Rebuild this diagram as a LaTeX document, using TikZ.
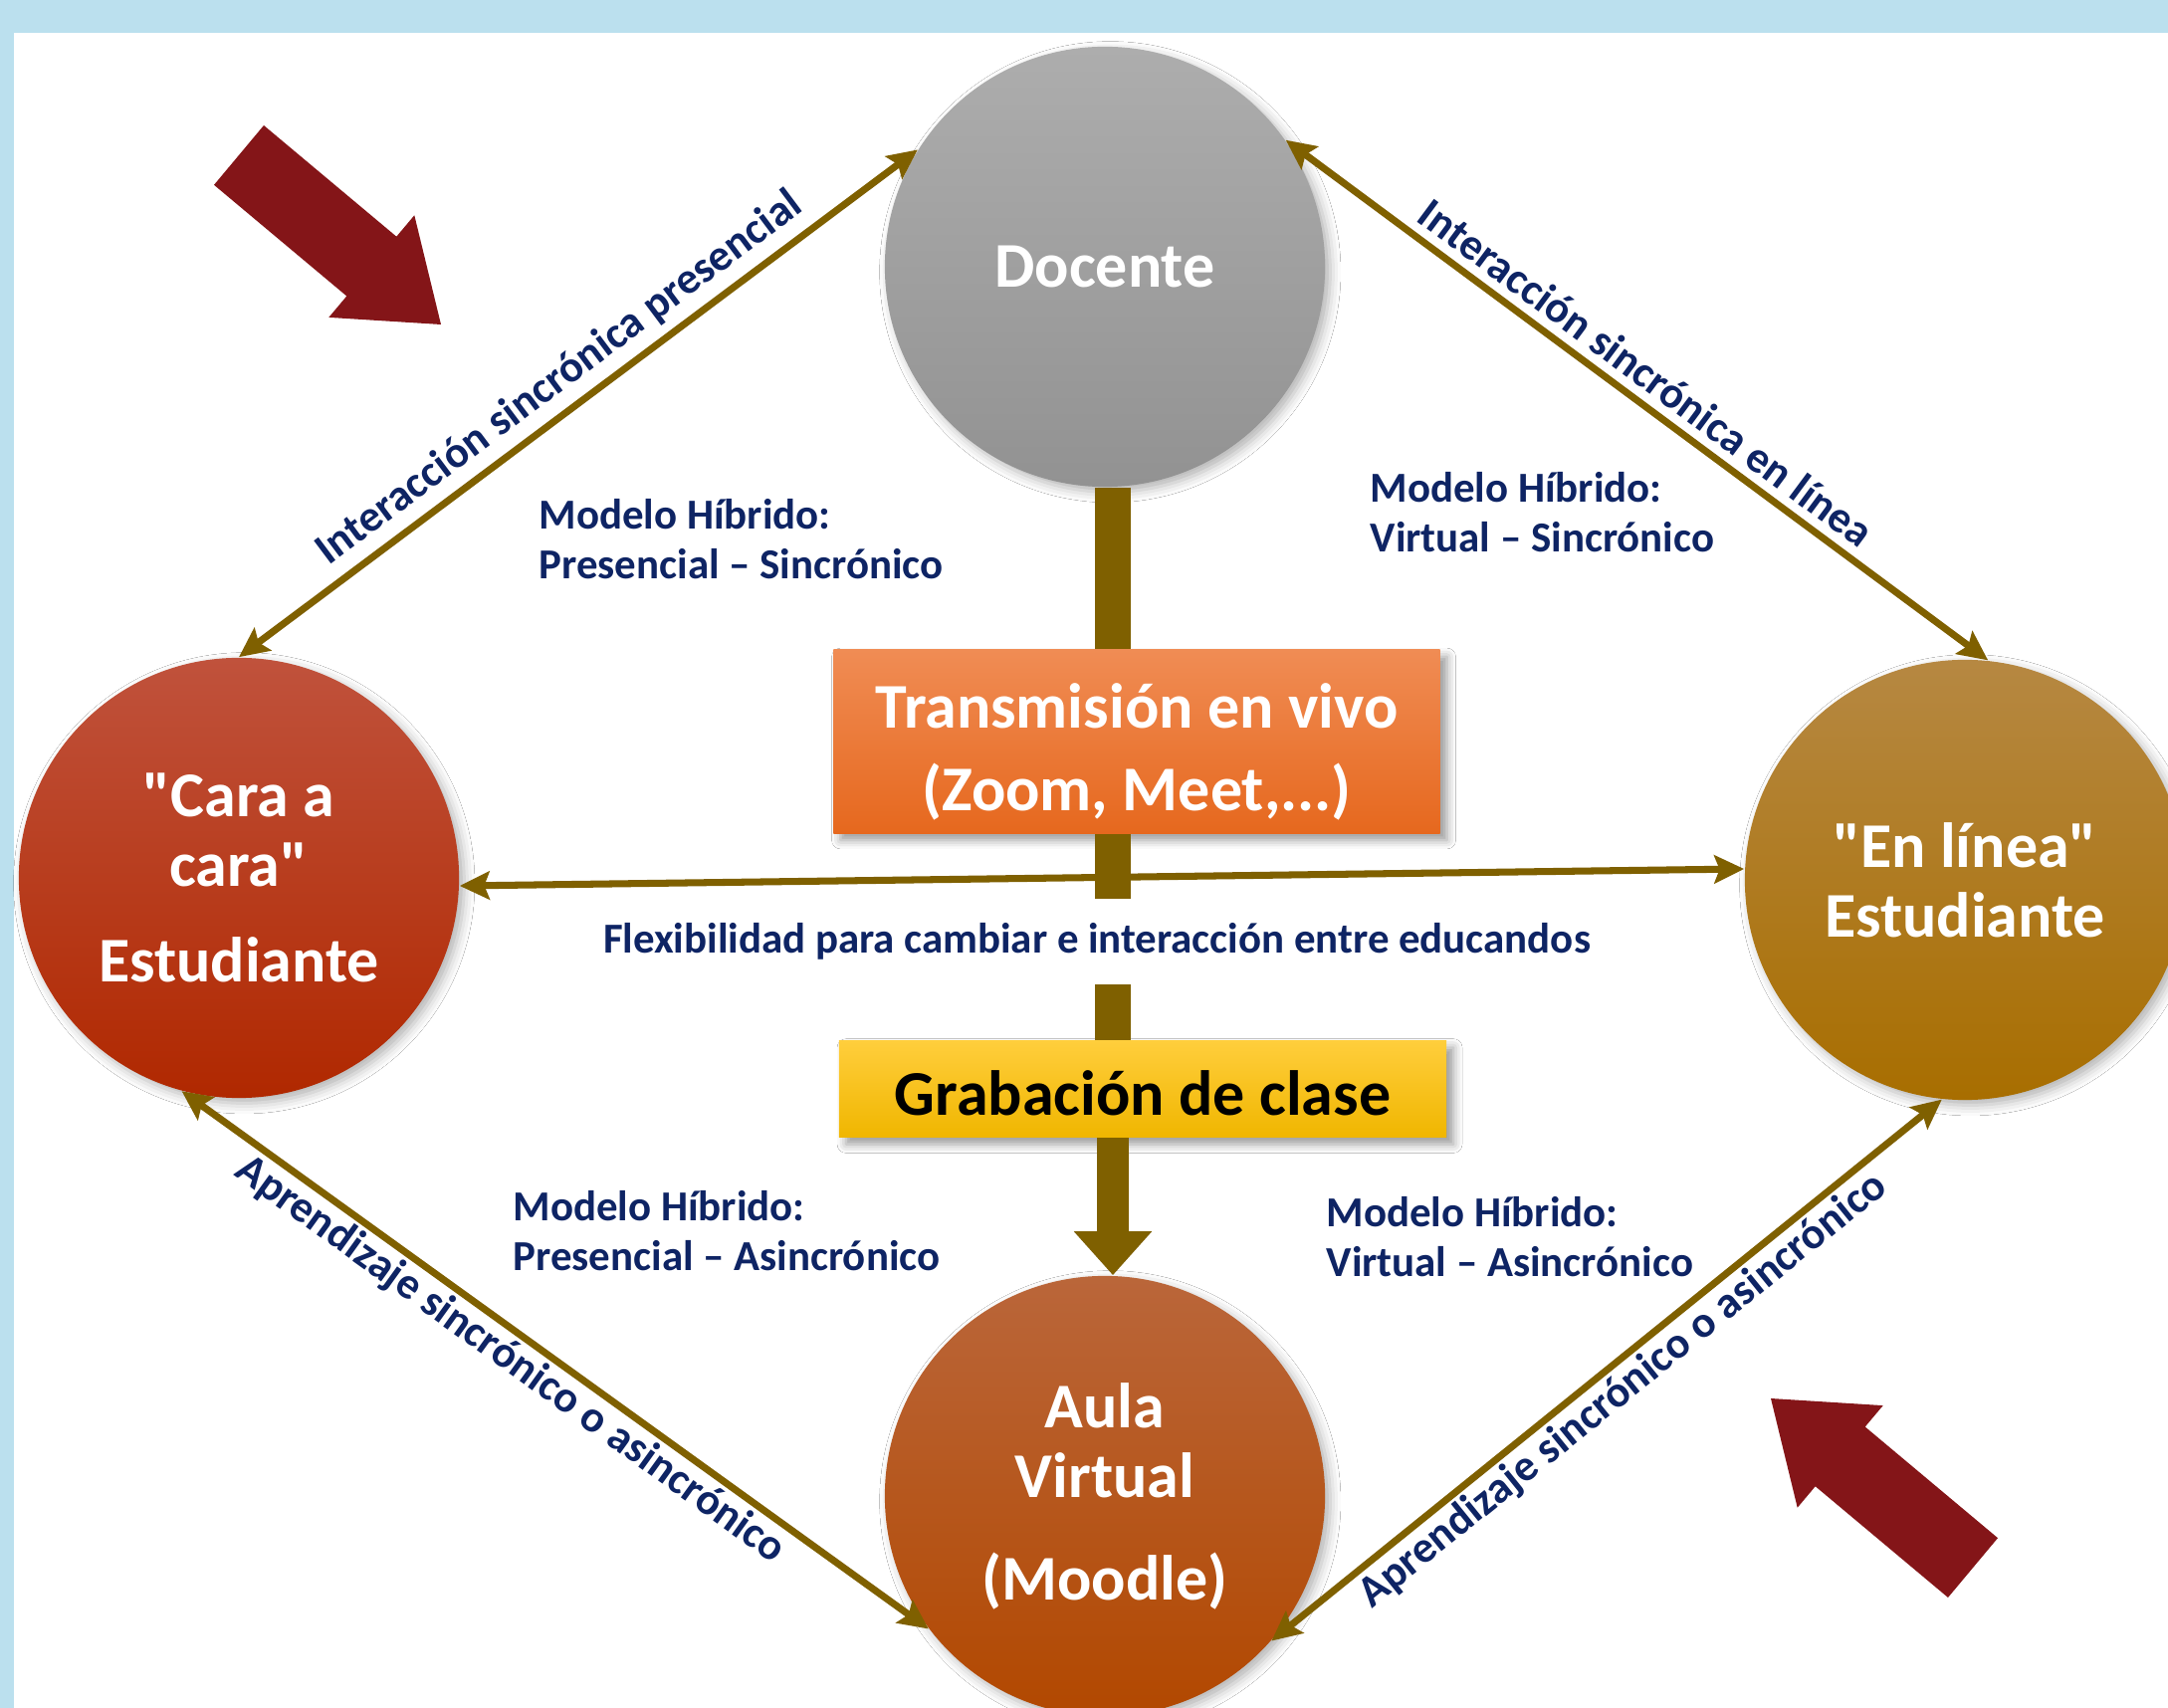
\documentclass[tikz,border=0pt]{standalone}
\usepackage{fontspec}
\setmainfont{Carlito}
\newfontfamily\carlito{Carlito}
\usetikzlibrary{arrows.meta,shadows.blur}
\definecolor{bgblue}{RGB}{187,224,238}
\definecolor{connbrown}{RGB}{127,96,0}
\definecolor{navytext}{RGB}{14,36,100}
\definecolor{blockred}{RGB}{132,21,24}
\definecolor{grayT}{RGB}{173,173,173}
\definecolor{grayB}{RGB}{146,146,146}
\definecolor{redT}{RGB}{192,82,60}
\definecolor{redB}{RGB}{176,40,0}
\definecolor{goldT}{RGB}{182,136,66}
\definecolor{goldB}{RGB}{168,110,0}
\definecolor{rustT}{RGB}{186,102,58}
\definecolor{rustB}{RGB}{178,72,0}
\definecolor{orangeT}{RGB}{240,140,84}
\definecolor{orangeB}{RGB}{230,104,30}
\definecolor{yellowT}{RGB}{255,206,60}
\definecolor{yellowB}{RGB}{240,182,0}
\begin{document}
\begin{tikzpicture}[x=0.01cm,y=-0.01cm,
  >={Stealth[length=8.5pt,width=8pt,inset=1.5pt]},
  bubble/.style={circle, minimum size=4.42cm, inner sep=0pt, text=white,
    font=\carlito\bfseries\fontsize{18.2}{19.9}\selectfont, align=center,
    blur shadow={shadow xshift=1.5pt, shadow yshift=-1.5pt, shadow blur radius=3pt, shadow opacity=30}},
  panel/.style={rectangle, inner sep=0pt, align=center,
    font=\carlito\bfseries\fontsize{18.2}{23.6}\selectfont,
    blur shadow={shadow xshift=2pt, shadow yshift=-2pt, shadow blur radius=2.5pt, shadow opacity=40}},
  note/.style={text=navytext, font=\carlito\bfseries\fontsize{12.2}{14.2}\selectfont, align=left, inner sep=0pt},
  link/.style={draw=connbrown, line width=2pt, <->},
  trunk/.style={draw=connbrown, line width=10pt},
  uplbl/.style={text=navytext, font=\carlito\bfseries\fontsize{12.6}{14.2}\selectfont, sloped, anchor=south, inner sep=2.5pt},
  downlbl/.style={text=navytext, font=\carlito\bfseries\fontsize{12.6}{14.2}\selectfont, sloped, anchor=north, inner sep=1pt},
]
\useasboundingbox (0,0) rectangle (2178,1716);
\fill[white] (0,0) rectangle (2178,1716);
\fill[bgblue] (0,0) rectangle (2178,33);
\fill[bgblue] (0,0) rectangle (14,1716);

% main nodes
\node[bubble, top color=grayT, bottom color=grayB] (docente) at (1110,268) {Docente};
\node[bubble, top color=redT, bottom color=redB] (cara) at (240,882) {"Cara a\\cara"\\[7.5pt]Estudiante};
\node[bubble, top color=goldT, bottom color=goldB] (enlinea) at (1974,884) {"En línea"\\Estudiante};
\node[bubble, top color=rustT, bottom color=rustB] (aula) at (1110,1503) {Aula\\Virtual\\[9.4pt](Moodle)};
\node[panel, minimum width=6.09cm, minimum height=1.84cm, top color=orangeT, bottom color=orangeB, text=white] (trans) at (1142,745) {\raisebox{-0.11cm}[\height][\depth]{\begin{tabular}{@{}c@{}}Transmisión en vivo\\(Zoom, Meet,...)\end{tabular}}};
\node[panel, minimum width=6.10cm, minimum height=0.97cm, top color=yellowT, bottom color=yellowB, text=black] (grab) at (1148,1094) {\raisebox{-0.04cm}[\height][\depth]{Grabación de clase}};

% horizontal two-way connector
\draw[link] ([yshift=-0.08cm]cara.east) -- ([yshift=0.11cm]enlinea.west);

% central trunk
\coordinate (barx) at (1118,0);
\draw[trunk] (docente.south -| barx) -- (trans.north -| barx);
\draw[trunk] (trans.south -| barx) -- (grab.north -| barx);
\node[note, fill=white, minimum height=0.85cm, align=center, inner xsep=4pt] (flex) at (1102,946) {Flexibilidad para cambiar e interacción entre educandos};
\draw[trunk, line width=9.2pt, -{Triangle[length=12.5pt,width=21.5pt]}] (grab.south -| barx) -- (aula.north -| barx);

% diagonal connectors
\draw[link] (cara.north) -- node[uplbl, pos=0.5] {Interacción sincrónica presencial} (docente.148);
\draw[link] (docente.35) -- node[uplbl, pos=0.49] {Interacción sincrónica en línea} (enlinea.84);
\draw[link] (cara.255) -- node[downlbl, pos=0.46] {Aprendizaje sincrónico o asincrónico} (aula.217);
\draw[link] (aula.-41) -- node[downlbl, pos=0.5] {Aprendizaje sincrónico o asincrónico} (enlinea.264);

% model labels
\node[note, anchor=west] (mh1) at (541,542) {Modelo Híbrido:\\Presencial – Sincrónico};
\node[note, anchor=west] (mh2) at (1376,515) {Modelo Híbrido:\\Virtual – Sincrónico};
\node[note, anchor=west] (mh3) at (515,1237) {Modelo Híbrido:\\Presencial – Asincrónico};
\node[note, anchor=west] (mh4) at (1332,1243) {Modelo Híbrido:\\Virtual – Asincrónico};

% block arrows
\fill[blockred] (443,326) -- (416.3,216.3) -- (398.3,237.7) -- (265,126) -- (215,185.8) -- (348.3,297.5) -- (330.3,318.9) -- cycle;
\fill[blockred] (1779,1405) -- (1891.7,1412.1) -- (1873.7,1433.5) -- (2007,1545.2) -- (1957,1605) -- (1823.7,1493.3) -- (1805.7,1514.7) -- cycle;
\end{tikzpicture}
\end{document}
